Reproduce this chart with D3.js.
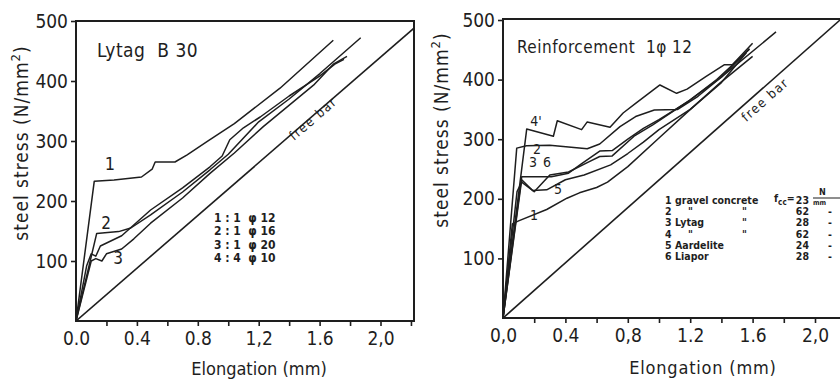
<!DOCTYPE html>
<html><head><meta charset="utf-8">
<script src="https://cdn.jsdelivr.net/npm/d3@7"></script>
<style>
body{margin:0;background:#fff}
svg{display:block}
text{font-family:"DejaVu Sans",sans-serif;font-stretch:condensed;fill:#1e1e1e}
</style>
</head><body>
<svg id="c" width="840" height="383"></svg>
<script>
// ---- shared axes ----
const yTickValues = [100, 200, 300, 400, 500];
const xTickValues = [0, 0.2, 0.4, 0.6, 0.8, 1.0, 1.2, 1.4, 1.6, 1.8, 2.0, 2.2];
const xLabelsLeft = ["0.0", "0.4", "0.8", "1,2", "1.6", "2,0"];
const xLabelsRight = ["0,0", "0.4", "0,8", "1.2", "1.6", "2,0"];

// ---- left panel: Lytag B 30 (elongation mm, steel stress N/mm2) ----
const leftFreeBar = [[0, 0], [2.22, 488]];
const left1 = [[0,0],[0.12,233],[0.25,235],[0.43,240],[0.5,253],[0.52,265],[0.65,265],[0.73,277],[0.86,299],[1.04,329],[1.34,388],[1.69,468]];
const left2 = [[0,0],[0.136,146],[0.28,149],[0.36,155],[0.49,177],[0.7,215],[0.88,252],[1.0,278],[1.2,332],[1.4,370],[1.6,412],[1.87,472]];
const left3 = [[0,0],[0.1,100],[0.13,104],[0.17,100],[0.2,112],[0.3,120],[0.38,137],[0.49,163],[0.7,205],[0.88,246],[1.04,280],[1.23,324],[1.56,393],[1.69,428],[1.78,441]];
const left4 = [[0,0],[0.07,92],[0.1,112],[0.13,108],[0.16,125],[0.3,142],[0.49,185],[0.7,222],[0.88,257],[0.96,275],[1.01,302],[1.1,322],[1.21,340],[1.4,375],[1.6,408],[1.7,428],[1.76,436]];
const leftLegend = ["1 : 1  φ 12", "2 : 1  φ 16", "3 : 1  φ 20", "4 : 4  φ 10"];

// ---- right panel: Reinforcement 1 phi 12 ----
const rightFreeBar = [[0, 0], [2.16, 500]];
const right1 = [[0,0],[0.06,158],[0.1,163],[0.28,182],[0.41,201],[0.49,210],[0.6,219],[0.67,228],[0.8,254],[1.0,302],[1.18,345],[1.39,394],[1.6,439]];
const right2 = [[0,0],[0.088,285],[0.15,289],[0.3,290],[0.54,284],[0.62,292],[0.75,321],[0.85,338],[0.97,349],[1.12,350],[1.25,372],[1.45,415],[1.75,480]];
const right3 = [[0,0],[0.12,237],[0.31,237],[0.42,243],[0.5,258],[0.62,280],[0.7,281],[0.8,300],[0.9,318],[1.0,333],[1.18,362],[1.37,400],[1.58,451]];
const right4 = [[0,0],[0.152,317],[0.323,305],[0.348,331],[0.504,316],[0.54,329],[0.686,320],[0.77,344],[0.85,360],[1.006,391],[1.113,377],[1.18,384],[1.3,405],[1.42,425],[1.47,425],[1.6,461]];
const right5 = [[0,0],[0.12,232],[0.19,214],[0.28,215],[0.4,232],[0.52,240],[0.69,257],[0.8,276],[0.9,295],[1.0,316],[1.2,350],[1.4,395],[1.56,445]];
const right6 = [[0,0],[0.09,212],[0.12,228],[0.2,212],[0.3,240],[0.42,245],[0.55,262],[0.62,271],[0.7,272],[0.84,305],[0.96,324],[1.08,345],[1.2,366],[1.4,404],[1.58,452]];
const rightLegendNum = ["1", "2", "3", "4", "5", "6"];
const rightLegendName = ["gravel concrete", "\"", "Lytag", "\"", "Aardelite", "Liapor"];
const rightLegendDitto = ["", "\"", "\"", "\"", "", ""];
const rightLegendFcc = ["23", "62", "28", "62", "24", "28"];

const svg = d3.select("#c");
const ink = "#1e1e1e";

function panel(cfg) {
  const g = svg.append("g");
  const x = d3.scaleLinear().domain(cfg.xDomain).range(cfg.xRange);
  const y = d3.scaleLinear().domain([0, 500]).range(cfg.yRange);
  g.append("path")
    .attr("d", `M${x(0)},${cfg.frameTop}H${cfg.frameRight}V${y(0)}H${x(0)}Z`)
    .attr("fill", "none").attr("stroke", ink).attr("stroke-width", 2);
  const ya = g.append("g").attr("transform", `translate(${x(0)},0)`)
    .call(d3.axisLeft(y).tickValues(yTickValues).tickSize(5).tickPadding(3).tickFormat(d3.format("d")));
  ya.select(".domain").remove();
  ya.selectAll("line").attr("stroke", ink).attr("stroke-width", 1.6);
  ya.selectAll("text").style("font-size", "19px").attr("fill", ink);
  const xa = g.append("g").attr("transform", `translate(0,${y(0)})`)
    .call(d3.axisBottom(x).tickValues(xTickValues).tickSize(5).tickPadding(6)
      .tickFormat((d, i) => (i % 2 === 0 && cfg.xLabels[i / 2]) ? cfg.xLabels[i / 2] : ""));
  xa.select(".domain").remove();
  xa.selectAll("line").attr("stroke", ink).attr("stroke-width", 1.6).attr("opacity", (d) => d === 0 ? 0 : 1);
  xa.selectAll("text").style("font-size", "19px").attr("fill", ink);

  const line = d3.line().x(d => x(d[0])).y(d => y(d[1]));
  const clipId = "clip" + cfg.id;
  g.append("clipPath").attr("id", clipId).append("rect")
    .attr("x", x(0)).attr("y", cfg.frameTop).attr("width", cfg.frameRight - x(0)).attr("height", y(0) - cfg.frameTop);
  const cg = g.append("g").attr("clip-path", `url(#${clipId})`);
  cg.append("path").datum(cfg.freeBar).attr("d", line)
    .attr("fill", "none").attr("stroke", ink).attr("stroke-width", 1.6);
  cfg.series.forEach(s => {
    cg.append("path").datum(s).attr("d", line)
      .attr("fill", "none").attr("stroke", ink).attr("stroke-width", 1.5).attr("stroke-linejoin", "round");
  });
  const fb = cfg.freeBar;
  const ang = Math.atan2(y(fb[1][1]) - y(0), x(fb[1][0]) - x(0)) * 180 / Math.PI;
  g.append("text").attr("transform", `translate(${cfg.freeBarLabel[0]},${cfg.freeBarLabel[1]}) rotate(${ang})`)
    .attr("text-anchor", "middle").style("font-size", "13px").style("letter-spacing", "1.5px").text("free bar");
  g.append("text").attr("x", cfg.title[0]).attr("y", cfg.title[1]).style("font-size", cfg.title[3] + "px")
    .style("letter-spacing", "0.5px").style("white-space", "pre").text(cfg.title[2]);
  const yl = g.append("text").attr("transform", `translate(${cfg.yTitle[0]},${cfg.yTitle[1]}) rotate(-90)`)
    .attr("text-anchor", "middle").style("font-size", "19px").style("letter-spacing", "1px");
  yl.append("tspan").text("steel stress (N/mm");
  yl.append("tspan").attr("dy", -8).style("font-size", "13px").text("2");
  yl.append("tspan").attr("dy", 8).text(")");
  g.append("text").attr("x", cfg.xTitle[0]).attr("y", cfg.xTitle[1]).attr("text-anchor", "middle")
    .style("font-size", "18px").style("letter-spacing", cfg.xTitle[2] + "px").text("Elongation (mm)");
  cfg.curveLabels.forEach(l => {
    g.append("text").attr("x", l[0]).attr("y", l[1]).attr("text-anchor", "middle")
      .style("font-size", l[3] + "px").text(l[2]);
  });
  return {g, x, y};
}

const L = panel({
  id: "L", xDomain: [0, 2.22], xRange: [76, 414], yRange: [321, 21], frameTop: 21, frameRight: 414,
  xLabels: xLabelsLeft, freeBar: leftFreeBar, freeBarLabel: [316, 122],
  series: [left1, left2, left3, left4],
  title: [97, 57, "Lytag  B 30", 19], yTitle: [28, 143], xTitle: [259, 375, 0],
  curveLabels: [[110, 170, "1", 18], [106, 229, "2", 17], [118, 264, "3", 17]]
});
leftLegend.forEach((t, i) => {
  L.g.append("text").attr("x", 214).attr("y", 222 + i * 13.3).style("font-size", "12px")
    .style("font-weight", "bold").style("white-space", "pre").text(t);
});

const R = panel({
  id: "R", xDomain: [0, 2.3], xRange: [503, 503 + 2.3 * 156], yRange: [318, 20], frameTop: 19, frameRight: 870,
  xLabels: xLabelsRight, freeBar: rightFreeBar, freeBarLabel: [768, 103],
  series: [right1, right2, right3, right4, right5, right6],
  title: [517, 53, "Reinforcement  1φ 12", 17], yTitle: [448, 130], xTitle: [703, 374, 0.8],
  curveLabels: [[536, 126, "4'", 14], [537, 154, "2", 14], [533, 167, "3", 14], [547, 167, "6", 14], [558, 194, "5", 14], [534, 220, "1", 14]]
});
rightLegendNum.forEach((n, i) => {
  const yy = 204 + i * 11.2;
  const st = (sel) => sel.style("font-size", "10.5px").style("font-weight", "bold");
  st(R.g.append("text").attr("x", 665).attr("y", yy).text(n));
  st(R.g.append("text").attr("x", rightLegendName[i] === "\"" ? 688 : 675).attr("y", yy).text(rightLegendName[i]));
  if (rightLegendDitto[i]) st(R.g.append("text").attr("x", 742).attr("y", yy).text(rightLegendDitto[i]));
  st(R.g.append("text").attr("x", 809).attr("y", yy).attr("text-anchor", "end").text(rightLegendFcc[i]));
  if (i > 0) st(R.g.append("text").attr("x", 828).attr("y", yy).text("-"));
});
const fh = R.g.append("text").attr("x", 774).attr("y", 202).style("font-size", "10.5px").style("font-weight", "bold");
fh.append("tspan").text("f");
fh.append("tspan").attr("dy", 3).style("font-size", "8px").text("cc");
fh.append("tspan").attr("dy", -3).text("=");
R.g.append("text").attr("x", 819).attr("y", 195).style("font-size", "9px").style("font-weight", "bold").text("N");
R.g.append("line").attr("x1", 813).attr("x2", 840).attr("y1", 198).attr("y2", 198).attr("stroke", ink).attr("stroke-width", 1);
R.g.append("text").attr("x", 813).attr("y", 205).style("font-size", "7px").style("font-weight", "bold").text("mm");
</script>
</body></html>
